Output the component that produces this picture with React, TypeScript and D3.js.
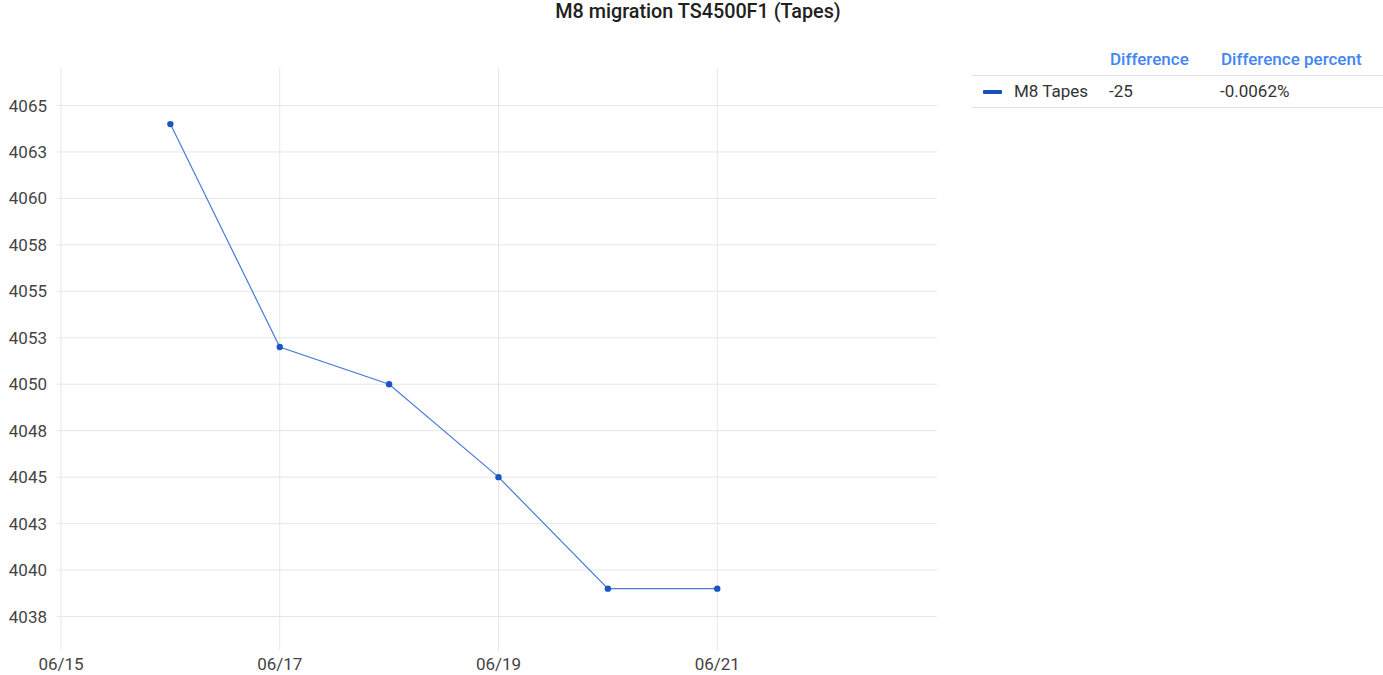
import React from "react";
import * as d3 from "d3";

const title = "M8 migration TS4500F1 (Tapes)";
const dates = ["2023-06-16", "2023-06-17", "2023-06-18", "2023-06-19", "2023-06-20", "2023-06-21"];
const values = [4064, 4052, 4050, 4045, 4039, 4039];
const yTicks = [4037.5, 4040, 4042.5, 4045, 4047.5, 4050, 4052.5, 4055, 4057.5, 4060, 4062.5, 4065];
const xTicks = ["2023-06-15", "2023-06-17", "2023-06-19", "2023-06-21"];
const seriesName = "M8 Tapes";
const legendHeaders = ["Difference", "Difference percent"];
const legendValues = ["-25", "-0.0062%"];

const W = 1383;
const H = 675;
const parse = d3.timeParse("%Y-%m-%d");

export default function App() {
  const x = d3.scaleTime()
    .domain([parse("2023-06-15")!, parse("2023-06-23")!])
    .range([61, 936]);
  const y = d3.scaleLinear().domain([4037.5, 4065]).range([616.5, 105.5]);
  const fmt = d3.timeFormat("%m/%d");
  const pts = dates.map((d, i) => [x(parse(d)!), y(values[i])] as [number, number]);
  const line = d3.line()(pts) || "";
  const font = "Roboto, 'Noto Sans', Arial, sans-serif";
  const vTop = 68, vBot = 650;
  const fs = 17;
  return (
    <svg width={W} height={H} style={{ position: "absolute", left: 0, top: 0, display: "block" }} fontFamily={font}>
      <rect width={W} height={H} fill="#fff" />
      <text x={698} y={18} textAnchor="middle" fontSize={19.8} fontWeight={500} fill="#212121">{title}</text>
      {yTicks.map((t) => (
        <g key={t}>
          <line x1={57} x2={937} y1={y(t)} y2={y(t)} stroke="#e6e6e6" strokeWidth={1} />
          <text x={47} y={y(t) + 6} textAnchor="end" fontSize={fs} fill="#444">{Math.round(t)}</text>
        </g>
      ))}
      {xTicks.map((t) => {
        const xx = x(parse(t)!);
        return (
          <g key={t}>
            <line x1={xx} x2={xx} y1={vTop} y2={vBot} stroke="#e6e6e6" strokeWidth={1} />
            <text x={xx} y={670} textAnchor="middle" fontSize={fs} fill="#444">{fmt(parse(t)!)}</text>
          </g>
        );
      })}
      <path d={line} fill="none" stroke="#4a7ad8" strokeWidth={1.2} />
      {pts.map((p, i) => (
        <circle key={i} cx={p[0]} cy={p[1]} r={3.2} fill="#1a56c0" />
      ))}
      <g>
        <text x={1110} y={65} fontSize={fs} fontWeight={500} fill="#4285f4">{legendHeaders[0]}</text>
        <text x={1221} y={65} fontSize={fs} fontWeight={500} fill="#4285f4">{legendHeaders[1]}</text>
        <line x1={972} x2={1383} y1={75.5} y2={75.5} stroke="#e0e0e0" />
        <rect x={983} y={90} width={19} height={4} rx={1} fill="#1a4fb5" />
        <text x={1014} y={97} fontSize={fs} fill="#333">{seriesName}</text>
        <text x={1109} y={97} fontSize={fs} fill="#333">{legendValues[0]}</text>
        <text x={1220} y={97} fontSize={fs} fill="#333">{legendValues[1]}</text>
        <line x1={972} x2={1383} y1={107.5} y2={107.5} stroke="#e0e0e0" />
      </g>
    </svg>
  );
}
